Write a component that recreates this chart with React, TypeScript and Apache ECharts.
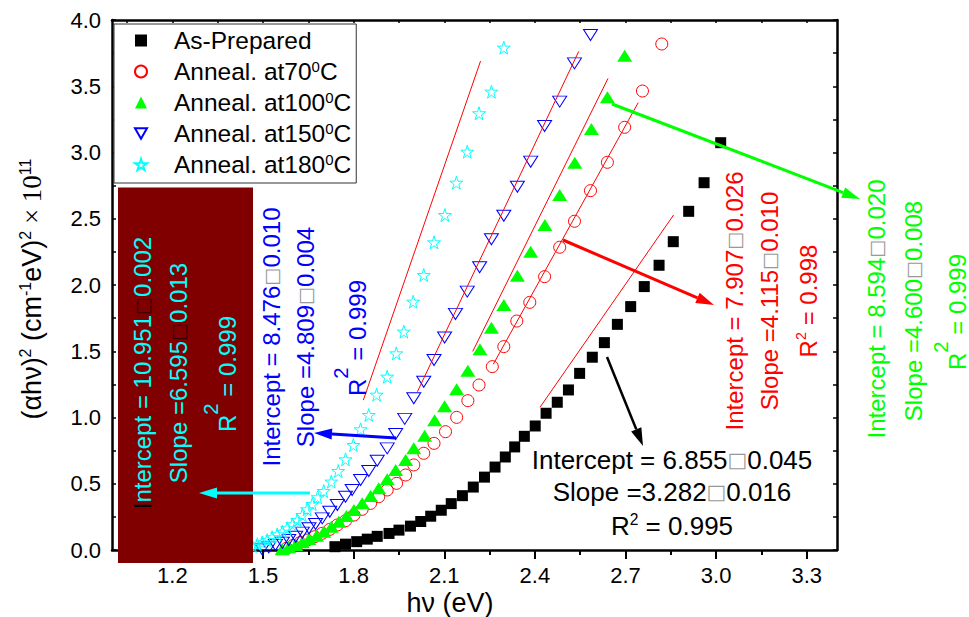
import React, { useEffect, useRef } from 'react';
import * as echarts from 'echarts';

const FONT = '"Liberation Sans", Arial, Helvetica, sans-serif';
const SERIF = '"Liberation Serif", "Times New Roman", serif';

// axis ticks and labels
const X_LABELS = [1.2, 1.5, 1.8, 2.1, 2.4, 2.7, 3.0, 3.3];
const X_MINOR = [1.05, 1.35, 1.65, 1.95, 2.25, 2.55, 2.85, 3.15];
const X_TOP = [1.05, 1.2, 1.35, 1.5, 1.65, 1.8, 1.95, 2.1, 2.25, 2.4, 2.55, 2.7, 2.85, 3.0, 3.15, 3.3];
const Y_TICKS = [0, 0.25, 0.5, 0.75, 1.0, 1.25, 1.5, 1.75, 2.0, 2.25, 2.5, 2.75, 3.0, 3.25, 3.5, 3.75, 4.0];

// (hv [eV], (alpha h v)^2 [x10^11])
const asPrepared: [number, number][] = [
  [1.738, 0.025], [1.773, 0.044], [1.810, 0.063], [1.845, 0.082], [1.878, 0.103],
  [1.917, 0.125], [1.950, 0.150], [1.988, 0.180], [2.022, 0.215], [2.055, 0.255],
  [2.090, 0.300], [2.123, 0.350], [2.160, 0.410], [2.196, 0.475], [2.233, 0.550],
  [2.268, 0.626], [2.302, 0.702], [2.333, 0.778], [2.365, 0.858], [2.401, 0.936],
  [2.437, 1.032], [2.474, 1.115], [2.511, 1.208], [2.548, 1.333], [2.590, 1.455],
  [2.630, 1.565], [2.673, 1.703], [2.717, 1.837], [2.762, 1.988], [2.811, 2.149],
  [2.858, 2.327], [2.909, 2.556], [2.960, 2.772], [3.015, 3.074],
];

const anneal70: [number, number][] = [
  [1.578, 0.013], [1.600, 0.035], [1.622, 0.055], [1.646, 0.075], [1.671, 0.100],
  [1.696, 0.126], [1.721, 0.156], [1.746, 0.189], [1.773, 0.221], [1.801, 0.264],
  [1.828, 0.307], [1.856, 0.352], [1.883, 0.402], [1.911, 0.453], [1.942, 0.503],
  [1.972, 0.566], [1.999, 0.642], [2.032, 0.730], [2.066, 0.805], [2.104, 0.893],
  [2.141, 1.001], [2.178, 1.127], [2.215, 1.245], [2.259, 1.384], [2.297, 1.535],
  [2.340, 1.728], [2.383, 1.869], [2.432, 2.063], [2.482, 2.285], [2.531, 2.481],
  [2.584, 2.712], [2.640, 2.926], [2.697, 3.190], [2.756, 3.464], [2.820, 3.819],
];

const anneal100: [number, number][] = [
  [1.563, 0.006], [1.585, 0.020], [1.608, 0.038], [1.630, 0.058], [1.652, 0.083],
  [1.677, 0.108], [1.701, 0.138], [1.726, 0.176], [1.751, 0.214], [1.776, 0.257],
  [1.801, 0.302], [1.828, 0.352], [1.856, 0.408], [1.883, 0.466], [1.911, 0.534],
  [1.939, 0.604], [1.972, 0.679], [1.999, 0.767], [2.035, 0.862], [2.068, 0.980],
  [2.101, 1.085], [2.141, 1.213], [2.178, 1.353], [2.218, 1.515], [2.256, 1.677],
  [2.297, 1.849], [2.342, 2.070], [2.386, 2.251], [2.433, 2.453], [2.482, 2.679],
  [2.532, 2.923], [2.587, 3.177], [2.640, 3.417], [2.697, 3.731], [2.756, 4.020],
];

const anneal150: [number, number][] = [
  [1.497, 0.005], [1.519, 0.020], [1.541, 0.038], [1.564, 0.055], [1.585, 0.075],
  [1.608, 0.100], [1.630, 0.131], [1.652, 0.164], [1.674, 0.196], [1.696, 0.239],
  [1.721, 0.289], [1.746, 0.340], [1.773, 0.402], [1.795, 0.453], [1.823, 0.528],
  [1.850, 0.596], [1.878, 0.674], [1.911, 0.767], [1.939, 0.875], [1.969, 0.990],
  [1.999, 1.145], [2.032, 1.270], [2.066, 1.434], [2.101, 1.604], [2.137, 1.782],
  [2.176, 1.950], [2.217, 2.134], [2.256, 2.345], [2.297, 2.523], [2.342, 2.742],
  [2.386, 2.931], [2.432, 3.200], [2.482, 3.384], [2.531, 3.673], [2.584, 3.887],
];

const anneal180: [number, number][] = [
  [1.465, 0.030], [1.481, 0.043], [1.497, 0.058], [1.514, 0.075], [1.530, 0.096],
  [1.547, 0.118], [1.564, 0.138], [1.580, 0.164], [1.597, 0.194], [1.613, 0.226],
  [1.630, 0.264], [1.646, 0.307], [1.663, 0.347], [1.681, 0.398], [1.701, 0.445],
  [1.726, 0.516], [1.749, 0.596], [1.773, 0.684], [1.799, 0.792], [1.823, 0.911],
  [1.850, 1.019], [1.876, 1.172], [1.911, 1.308], [1.941, 1.484], [1.966, 1.648],
  [1.997, 1.874], [2.032, 2.075], [2.066, 2.322], [2.102, 2.528], [2.140, 2.772],
  [2.176, 3.006], [2.215, 3.296], [2.256, 3.459], [2.297, 3.791], [2.339, 4.030],
];

// linear fits of the absorption edge: y = slope * hv - intercept
const FIT_INTERCEPT = [6.855, 7.907, 8.594, 8.476, 10.951];
const FIT_SLOPE = [3.282, 4.115, 4.600, 4.809, 6.595];
const FIT_FROM = [2.417, 2.262, 2.194, 2.011, 1.832];
const FIT_TO = [2.859, 2.742, 2.642, 2.545, 2.220];

const SERIES_NAMES = ['As-Prepared', 'Anneal. at70', 'Anneal. at100', 'Anneal. at150', 'Anneal. at180'];

const DOWN_TRIANGLE = 'path://M0,0 L100,0 L50,86 Z';
const STAR = 'path://M50,0 L61,35 L98,35 L68,57 L79,91 L50,70 L21,91 L32,57 L2,35 L39,35 Z';
const CLEAR = 'rgba(255,255,255,0)';

function arrow(x1: number, y1: number, x2: number, y2: number, color: string, w: number) {
  const a = Math.atan2(y2 - y1, x2 - x1);
  const L = 18;
  const H = 5.5;
  const bx = x2 - L * Math.cos(a);
  const by = y2 - L * Math.sin(a);
  const px = -Math.sin(a) * H;
  const py = Math.cos(a) * H;
  return [
    { type: 'line', z: 60, shape: { x1, y1, x2: bx, y2: by }, style: { stroke: color, lineWidth: w } },
    {
      type: 'polygon', z: 60,
      shape: { points: [[x2, y2], [bx + px, by + py], [bx - px, by - py]] },
      style: { fill: color },
    },
  ];
}

// rich styles for the fit annotations; "big" raises a large superscript 2 above the R
function richSet(color: string, size: number, boxColor: string, big: boolean) {
  const lh = big ? size + 14 : size + 4;
  const va = big ? 'bottom' : 'middle';
  return {
    t: { fill: color, fontSize: size, fontFamily: FONT, lineHeight: lh, verticalAlign: va },
    k: { fill: '#000', fontSize: size, fontFamily: FONT, lineHeight: lh, verticalAlign: va },
    b: { fill: boxColor, fontSize: size * 0.8, fontFamily: '"DejaVu Sans", sans-serif', lineHeight: lh, verticalAlign: va },
    s: { fill: color, fontSize: big ? size * 0.85 : size * 0.6, fontFamily: FONT, lineHeight: lh, verticalAlign: 'top' },
  };
}

function label(x: number, y: number, text: string, rich: any, rotated: boolean) {
  return {
    type: 'text', z: 61, x, y,
    rotation: rotated ? Math.PI / 2 : 0,
    style: { text, rich, align: 'center', verticalAlign: 'middle', fontFamily: FONT },
  };
}

export default function App() {
  const ref = useRef<HTMLDivElement>(null);

  useEffect(() => {
    if (!ref.current) return;
    const chart = echarts.init(ref.current, null, { renderer: 'svg' });

    const fitSeries = FIT_SLOPE.map((s, i) => ({
      type: 'line',
      xAxisIndex: 0,
      yAxisIndex: 0,
      data: [
        [FIT_FROM[i], s * FIT_FROM[i] - FIT_INTERCEPT[i]],
        [FIT_TO[i], s * FIT_TO[i] - FIT_INTERCEPT[i]],
      ],
      symbol: 'none',
      silent: true,
      z: 6,
      lineStyle: { color: '#ff0000', width: 1 },
    }));

    const cyan = richSet('#00ffff', 24, '#3a0000', false);
    const cyanR = richSet('#00ffff', 24, '#3a0000', true);
    const blue = richSet('#0000ff', 24, '#999999', false);
    const blueR = richSet('#0000ff', 24, '#999999', true);
    const red = richSet('#ff0000', 24, '#999999', false);
    const green = richSet('#00ff00', 24, '#999999', false);
    const greenR = richSet('#00ff00', 24, '#999999', true);
    const black = richSet('#000000', 26, '#999999', false);

    const option: any = {
      animation: false,
      backgroundColor: '#fff',
      grid: { left: 112, right: 132, top: 20, bottom: 67, containLabel: false },
      xAxis: [
        {
          type: 'value', min: 1.0, max: 3.4, position: 'bottom',
          axisLine: { onZero: false, lineStyle: { color: '#000', width: 2.5 } },
          axisTick: { customValues: X_LABELS, length: 9, lineStyle: { color: '#000', width: 2 } },
          axisLabel: {
            customValues: X_LABELS, formatter: (v: number) => v.toFixed(1),
            color: '#000', fontSize: 22, lineHeight: 20, fontFamily: FONT, margin: 15,
          },
          splitLine: { show: false },
        },
        {
          type: 'value', min: 1.0, max: 3.4, position: 'bottom',
          axisLine: { show: false, onZero: false },
          axisTick: { customValues: X_MINOR, length: 5, lineStyle: { color: '#000', width: 2 } },
          axisLabel: { show: false },
          splitLine: { show: false },
        },
        {
          type: 'value', min: 1.0, max: 3.4, position: 'top',
          axisLine: { onZero: false, lineStyle: { color: '#000', width: 2.5 } },
          axisTick: { inside: true, customValues: X_TOP, length: 3, lineStyle: { color: '#000', width: 1.5 } },
          axisLabel: { show: false },
          splitLine: { show: false },
        },
      ],
      yAxis: [
        {
          type: 'value', min: 0, max: 4, interval: 0.5, position: 'left',
          axisLine: { show: true, onZero: false, lineStyle: { color: '#000', width: 2.5 } },
          axisTick: { inside: true, customValues: Y_TICKS, length: 4, lineStyle: { color: '#000', width: 1.5 } },
          axisLabel: { formatter: (v: number) => v.toFixed(1), color: '#000', fontSize: 22, fontFamily: FONT, margin: 11 },
          splitLine: { show: false },
        },
        {
          type: 'value', min: 0, max: 4, interval: 0.5, position: 'right',
          axisLine: { show: true, onZero: false, lineStyle: { color: '#000', width: 2.5 } },
          axisTick: { inside: true, customValues: Y_TICKS, length: 4, lineStyle: { color: '#000', width: 1.5 } },
          axisLabel: { show: false },
          splitLine: { show: false },
        },
      ],
      legend: {
        data: SERIES_NAMES,
        orient: 'vertical',
        left: 114,
        top: 24,
        padding: [4, 5, 6, 20],
        itemGap: 5.5,
        itemWidth: 12,
        itemHeight: 12,
        backgroundColor: '#fff',
        borderColor: '#333',
        borderWidth: 1,
        selectedMode: false,
        formatter: (n: string) => (n === 'As-Prepared' ? `{p| }{t|${n}}` : `{p| }{t|${n}}{s|0}{t|C}`),
        textStyle: {
          fontSize: 24.5,
          fontFamily: FONT,
          color: '#000',
          rich: {
            p: { width: 22, fontSize: 24, lineHeight: 26 },
            t: { fontSize: 24.5, fontFamily: FONT, color: '#000', lineHeight: 26 },
            s: { fontSize: 15, fontFamily: FONT, color: '#000', lineHeight: 26, verticalAlign: 'top' },
          },
        },
      },
      series: [
        {
          type: 'scatter', name: SERIES_NAMES[0], data: asPrepared,
          symbol: 'rect', symbolSize: 11, z: 3,
          itemStyle: { color: '#000', opacity: 1 },
        },
        {
          type: 'scatter', name: SERIES_NAMES[1], data: anneal70,
          symbol: 'circle', symbolSize: 12, z: 3,
          itemStyle: { color: CLEAR, borderColor: '#ff0000', borderWidth: 1, opacity: 1 },
        },
        {
          type: 'scatter', name: SERIES_NAMES[2], data: anneal100,
          symbol: 'triangle', symbolSize: [15, 12], z: 3,
          itemStyle: { color: '#00ff00', opacity: 1 },
        },
        {
          type: 'scatter', name: SERIES_NAMES[3], data: anneal150,
          symbol: DOWN_TRIANGLE, symbolSize: [14, 11], z: 3,
          itemStyle: { color: CLEAR, borderColor: '#0000ff', borderWidth: 1, opacity: 1 },
        },
        {
          type: 'scatter', name: SERIES_NAMES[4], data: anneal180,
          symbol: STAR, symbolSize: 13, z: 3,
          itemStyle: { color: CLEAR, borderColor: '#00ffff', borderWidth: 1, opacity: 1 },
        },
        ...fitSeries,
      ],
      graphic: {
        elements: [
          { type: 'rect', z: 50, shape: { x: 118, y: 187.5, width: 135, height: 375.5 }, style: { fill: '#800000' } },
          ...arrow(310, 493, 199, 493, '#00ffff', 3),
          ...arrow(396, 438, 314, 433, '#0000ff', 3),
          ...arrow(607, 357, 643, 446, '#000000', 2.5),
          ...arrow(563, 240, 714, 305, '#ff0000', 3),
          ...arrow(612, 104, 860, 199, '#00ff00', 3),

          label(142, 373, '{k|I}{t|ntercept = 10.951}{b|□}{t|0.002}', cyan, true),
          label(178.5, 373, '{t|Slope =6.595}{b|□}{t|0.013}', cyan, true),
          label(220, 374, '{t|R}{s|2}{t| = 0.999}', cyanR, true),

          label(271, 337, '{t|Intercept = 8.476}{b|□}{t|0.010}', blue, true),
          label(305, 337, '{t|Slope =4.809}{b|□}{t|0.004}', blue, true),
          label(350, 338, '{t|R}{s|2}{t| = 0.999}', blueR, true),

          label(734, 301, '{t|Intercept = 7.907}{b|□}{t|0.026}', red, true),
          label(769, 301, '{t|Slope =4.115}{b|□}{t|0.010}', red, true),
          label(808, 301, '{t|R}{s|2}{t| = 0.998}', red, true),

          label(876, 309, '{t|Intercept = 8.594}{b|□}{t|0.020}', green, true),
          label(913, 311, '{t|Slope =4.600}{b|□}{t|0.008}', green, true),
          label(950, 312, '{t|R}{s|2}{t| = 0.999}', greenR, true),

          label(672, 460, '{t|Intercept = 6.855}{b|□}{t|0.045}', black, false),
          label(672, 492, '{t|Slope =3.282}{b|□}{t|0.016}', black, false),
          label(672, 526, '{t|R}{s|2}{t| = 0.995}', black, false),

          {
            type: 'text', z: 61, x: 450, y: 603,
            style: {
              text: 'hν (eV)', fill: '#000', fontSize: 27, lineHeight: 22, fontFamily: FONT,
              align: 'center', verticalAlign: 'middle',
            },
          },
          {
            type: 'text', z: 61, x: 32, y: 289, rotation: Math.PI / 2,
            style: {
              text: '{t|(αhν)}{s|2}{t| (cm}{s|-1}{t|eV)}{s|2}{x| × 10}{s|11}',
              align: 'center', verticalAlign: 'middle',
              rich: {
                t: { fill: '#000', fontSize: 27, fontFamily: FONT, lineHeight: 30 },
                x: { fill: '#000', fontSize: 27, fontFamily: SERIF, lineHeight: 30 },
                s: { fill: '#000', fontSize: 16, fontFamily: FONT, lineHeight: 30, verticalAlign: 'top' },
              },
            },
          },
        ],
      },
    };

    chart.setOption(option);
    return () => chart.dispose();
  }, []);

  return (
    <div
      ref={ref}
      style={{ position: 'fixed', left: 0, top: 0, width: 969, height: 617, background: '#fff' }}
    />
  );
}
